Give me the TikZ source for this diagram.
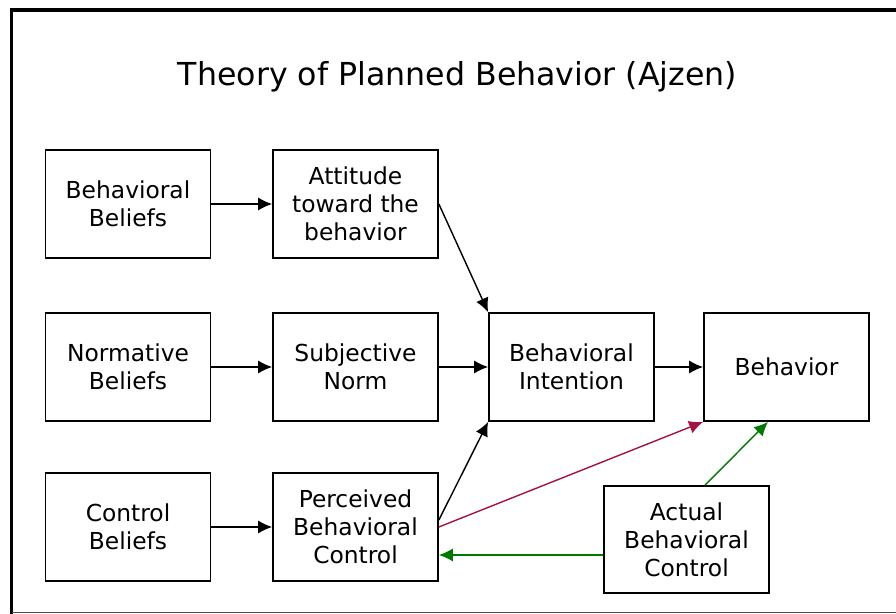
\documentclass[tikz,border=0pt]{standalone}
\usepackage{fontspec}
\setmainfont{DejaVu Sans}
\usetikzlibrary{arrows.meta}

\definecolor{tpbRed}{RGB}{160,20,70}
\definecolor{tpbGreen}{RGB}{0,120,0}

\begin{document}
\begin{tikzpicture}[%%
  x=0.02cm,y=-0.02cm,%%
  boxStyle/.style={draw,line width=1pt,minimum width=3.3cm,minimum height=2.16cm,align=center,font=\fontsize{13.3}{16}\selectfont},%%
  arrowStyle/.style={-{Latex[length=8pt,width=7.5pt]},line width=0.8pt},%%
  frameStyle/.style={line width=2.2pt}%%
]
%%
%%
\pgfmathsetmacro{\xleft}{128}
\pgfmathsetmacro{\xmid}{355.5}
\pgfmathsetmacro{\yup}{204}
\pgfmathsetmacro{\ymid}{367}
\pgfmathsetmacro{\ylow}{527}
%%
%% The page and its frame.
\useasboundingbox (0,0) rectangle (896,614);
\draw[frameStyle] (11.5,614) -- (11.5,10) -- (896,10);
\draw[black!70,line width=0.6pt] (11.5,612.5) -- (896,612.5);
%%
%% The title.
\node[font=\fontsize{18}{22}\selectfont] (title) at (457.5,77) {Theory of Planned Behavior (Ajzen)};
%%
%% The beliefs.
\node[boxStyle] (belBeh) at (\xleft,\yup) {Behavioral\\Beliefs};
\node[boxStyle] (belNorm) at (\xleft,\ymid) {Normative\\Beliefs};
\node[boxStyle] (belCtrl) at (\xleft,\ylow) {Control\\Beliefs};
%%
%% What the beliefs lead to.
\node[boxStyle] (attitude) at (\xmid,\yup) {Attitude\\toward the\\behavior};
\node[boxStyle] (subjNorm) at (\xmid,\ymid) {Subjective\\Norm};
\node[boxStyle] (percCtrl) at (\xmid,\ylow) {Perceived\\Behavioral\\Control};
%%
%% Intention, behavior and the actual control.
\node[boxStyle] (intention) at (571.5,\ymid) {Behavioral\\Intention};
\node[boxStyle] (behavior) at (786.5,\ymid) {Behavior};
\node[boxStyle,minimum height=2.14cm] (actualCtrl) at (686.5,539.5) {Actual\\Behavioral\\Control};
%%
%% Beliefs to attitude, norm and perceived control.
\draw[arrowStyle] (belBeh) -- (attitude);
\draw[arrowStyle] (belNorm) -- (subjNorm);
\draw[arrowStyle] (belCtrl) -- (percCtrl);
%%
%% Into the intention.
\draw[arrowStyle] (attitude.east) -- (intention.north west);
\draw[arrowStyle] (subjNorm) -- (intention);
\draw[arrowStyle] ([yshift=0.14cm]percCtrl.east) -- (intention.south west);
%%
%% Into the behavior.
\draw[arrowStyle] (intention) -- (behavior);
\draw[arrowStyle,tpbRed] (percCtrl.east) -- (behavior.south west);
\draw[arrowStyle,tpbGreen] ([xshift=0.37cm]actualCtrl.north) -- ([xshift=-0.37cm]behavior.south);
%%
%% Actual control back to perceived control.
\draw[arrowStyle,tpbGreen] ([yshift=-0.31cm]actualCtrl.west) coordinate (actOut) -- (actOut -| percCtrl.east);
\end{tikzpicture}
\end{document}
